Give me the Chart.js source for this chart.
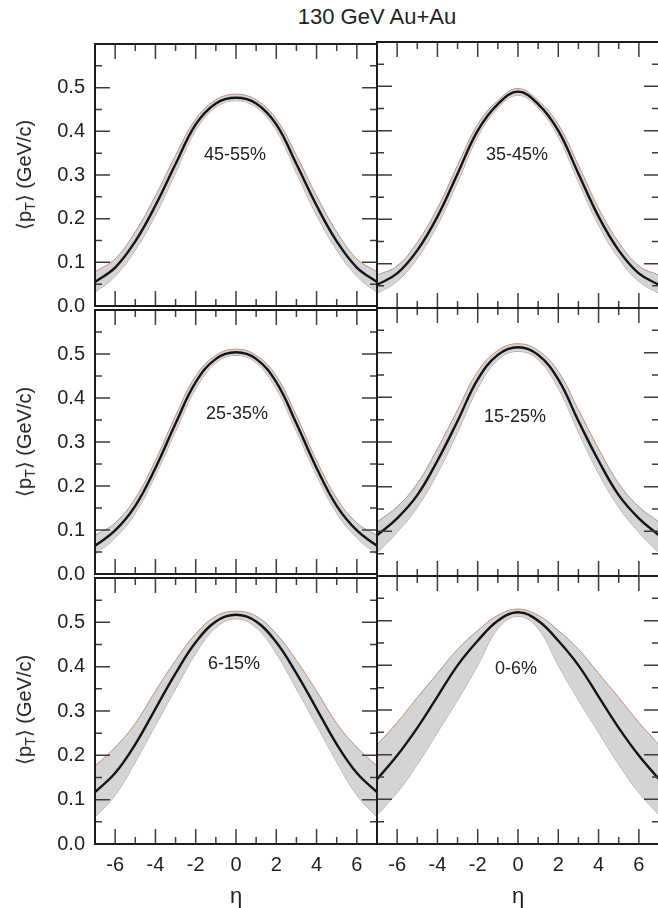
<!DOCTYPE html>
<html>
<head>
<meta charset="utf-8">
<script src="https://cdn.jsdelivr.net/npm/chart.js@4"></script>
<style>
    html, body { margin: 0; padding: 0; background: #fff; overflow: hidden; }
    #lienzo { position: relative; width: 658px; height: 908px; overflow: hidden;
              font-family: "Liberation Sans", Arial, sans-serif; color: #222; }
    #lienzo canvas { position: absolute; }
    .texto { position: absolute; white-space: nowrap; transform: translate(-50%, -50%); }
    .titulo { font-size: 22px; }
    .etiqueta { font-size: 18px; }
    .eje-y { font-size: 20px; transform: translate(-50%, -50%) rotate(-90deg); }
    .eje-y sub { font-size: 14px; vertical-align: -4px; }
</style>
</head>
<body>
<div id="lienzo">
    <div class="texto titulo" style="left:377px; top:17px;">130 GeV Au+Au</div>
</div>

<script>
'use strict';

// Pseudorapidez (eje x), un punto por unidad
const ETA = [-7, -6, -5, -4, -3, -2, -1, 0, 1, 2, 3, 4, 5, 6, 7];

// Marcas y etiquetas de los ejes
const X_ETIQUETAS = [-6, -4, -2, 0, 2, 4, 6];
const X_MENORES = [-5, -3, -1, 1, 3, 5];
const Y_ETIQUETAS = [0, 0.1, 0.2, 0.3, 0.4, 0.5];
const Y_MENORES = [0.05, 0.15, 0.25, 0.35, 0.45, 0.55];

// <pT> (GeV/c): curva central, borde superior e inferior de la banda
const PT_45_55    = [0.055, 0.088, 0.148, 0.230, 0.325, 0.416, 0.464, 0.477, 0.464, 0.416, 0.325, 0.230, 0.148, 0.088, 0.055];
const PT_45_55_HI = [0.078, 0.108, 0.170, 0.252, 0.345, 0.428, 0.472, 0.485, 0.472, 0.428, 0.345, 0.252, 0.170, 0.108, 0.078];
const PT_45_55_LO = [0.031, 0.068, 0.128, 0.208, 0.305, 0.402, 0.455, 0.470, 0.455, 0.402, 0.305, 0.208, 0.128, 0.068, 0.031];

const PT_35_45    = [0.052, 0.078, 0.130, 0.206, 0.303, 0.400, 0.460, 0.488, 0.460, 0.400, 0.303, 0.206, 0.130, 0.078, 0.052];
const PT_35_45_HI = [0.074, 0.095, 0.148, 0.225, 0.322, 0.414, 0.468, 0.495, 0.468, 0.414, 0.322, 0.225, 0.148, 0.095, 0.074];
const PT_35_45_LO = [0.033, 0.060, 0.112, 0.187, 0.284, 0.386, 0.451, 0.480, 0.451, 0.386, 0.284, 0.187, 0.112, 0.060, 0.033];

const PT_25_35    = [0.064, 0.099, 0.155, 0.241, 0.342, 0.436, 0.489, 0.504, 0.489, 0.436, 0.342, 0.241, 0.155, 0.099, 0.064];
const PT_25_35_HI = [0.088, 0.116, 0.172, 0.258, 0.360, 0.450, 0.497, 0.511, 0.497, 0.450, 0.360, 0.258, 0.172, 0.116, 0.088];
const PT_25_35_LO = [0.045, 0.082, 0.138, 0.224, 0.324, 0.421, 0.480, 0.497, 0.480, 0.421, 0.324, 0.224, 0.138, 0.082, 0.045];

const PT_15_25    = [0.091, 0.129, 0.181, 0.258, 0.347, 0.440, 0.495, 0.512, 0.495, 0.440, 0.347, 0.258, 0.181, 0.129, 0.091];
const PT_15_25_HI = [0.121, 0.155, 0.207, 0.285, 0.372, 0.458, 0.505, 0.520, 0.505, 0.458, 0.372, 0.285, 0.207, 0.155, 0.121];
const PT_15_25_LO = [0.052, 0.098, 0.154, 0.230, 0.322, 0.420, 0.484, 0.503, 0.484, 0.420, 0.322, 0.230, 0.154, 0.098, 0.052];

const PT_6_15     = [0.117, 0.160, 0.225, 0.305, 0.385, 0.455, 0.502, 0.517, 0.502, 0.455, 0.385, 0.305, 0.225, 0.160, 0.117];
const PT_6_15_HI  = [0.176, 0.218, 0.272, 0.345, 0.414, 0.474, 0.514, 0.525, 0.514, 0.474, 0.414, 0.345, 0.272, 0.218, 0.176];
const PT_6_15_LO  = [0.061, 0.110, 0.185, 0.268, 0.350, 0.430, 0.488, 0.508, 0.488, 0.430, 0.350, 0.268, 0.185, 0.110, 0.061];

const PT_0_6      = [0.145, 0.198, 0.260, 0.330, 0.400, 0.455, 0.500, 0.519, 0.500, 0.455, 0.400, 0.330, 0.260, 0.198, 0.145];
const PT_0_6_HI   = [0.222, 0.272, 0.328, 0.382, 0.436, 0.478, 0.512, 0.526, 0.512, 0.478, 0.436, 0.382, 0.328, 0.272, 0.222];
const PT_0_6_LO   = [0.065, 0.115, 0.178, 0.250, 0.322, 0.400, 0.482, 0.510, 0.482, 0.400, 0.322, 0.250, 0.178, 0.115, 0.065];

const PANELES = [
    { nombre: '45-55%', centro: PT_45_55, alto: PT_45_55_HI, bajo: PT_45_55_LO, pos: [235, 154] },
    { nombre: '35-45%', centro: PT_35_45, alto: PT_35_45_HI, bajo: PT_35_45_LO, pos: [517, 154] },
    { nombre: '25-35%', centro: PT_25_35, alto: PT_25_35_HI, bajo: PT_25_35_LO, pos: [237, 413] },
    { nombre: '15-25%', centro: PT_15_25, alto: PT_15_25_HI, bajo: PT_15_25_LO, pos: [515, 416] },
    { nombre: '6-15%',  centro: PT_6_15,  alto: PT_6_15_HI,  bajo: PT_6_15_LO,  pos: [234, 663] },
    { nombre: '0-6%',   centro: PT_0_6,   alto: PT_0_6_HI,   bajo: PT_0_6_LO,   pos: [516, 668] }
];

// Geometria de la rejilla 3x2 (pixeles de pagina)
const FILA_ARRIBA = [42, 308, 576];
const FILA_ABAJO = [308, 576, 844];
const MARGEN = 20;

const FUENTE = '"Liberation Sans", Arial, sans-serif';
const BANDA = 'rgb(211, 212, 214)';
const BORDE_BANDA = 'rgb(198, 142, 112)';

/**
 * Dibuja el marco y las marcas hacia dentro en los cuatro lados.
 */
const marcasInternas = {
    id: 'marcasInternas',
    afterDatasetsDraw(chart) {
        const { ctx, chartArea: a, scales: { x, y } } = chart;
        ctx.save();
        ctx.strokeStyle = '#3c3c3c';
        ctx.lineWidth = 1.5;
        ctx.beginPath();
        const marcaX = (v, largo) => {
            const px = x.getPixelForValue(v);
            ctx.moveTo(px, a.bottom); ctx.lineTo(px, a.bottom - largo);
            ctx.moveTo(px, a.top); ctx.lineTo(px, a.top + largo);
        };
        const marcaY = (v, largo) => {
            const py = y.getPixelForValue(v);
            ctx.moveTo(a.left, py); ctx.lineTo(a.left + largo, py);
            ctx.moveTo(a.right, py); ctx.lineTo(a.right - largo, py);
        };
        X_ETIQUETAS.forEach(v => marcaX(v, 15));
        X_MENORES.forEach(v => marcaX(v, 7));
        Y_ETIQUETAS.forEach(v => marcaY(v, 15));
        Y_MENORES.forEach(v => marcaY(v, 7));
        ctx.stroke();

        ctx.strokeStyle = '#1c1c1c';
        ctx.lineWidth = 2;
        ctx.strokeRect(a.left, a.top, a.right - a.left, a.bottom - a.top);
        ctx.restore();
    }
};

function puntos(valores) {
    return ETA.map((x, i) => ({ x, y: valores[i] }));
}

/**
 * Crea el grafico de un panel en la columna y fila indicadas.
 */
function crearPanel(panel, col, fila) {
    const lienzo = document.getElementById('lienzo');
    const canvas = document.createElement('canvas');
    const arriba = FILA_ARRIBA[fila] - MARGEN;
    const abajo = fila === 2 ? 908 : FILA_ABAJO[fila] + MARGEN;

    canvas.width = col === 0 ? 377 + MARGEN : 282 + 2 * MARGEN;
    canvas.height = abajo - arriba;
    canvas.style.left = (col === 0 ? 0 : 377 - MARGEN) + 'px';
    canvas.style.top = arriba + 'px';
    lienzo.appendChild(canvas);

    const linea = { pointRadius: 0, tension: 0.4 };

    new Chart(canvas, {
        type: 'line',
        data: {
            datasets: [
                { ...linea, label: 'centro', data: puntos(panel.centro), borderColor: '#141414', borderWidth: 2.4, fill: false, order: 0 },
                { ...linea, label: 'alto', data: puntos(panel.alto), borderColor: BORDE_BANDA, borderWidth: 1, backgroundColor: BANDA, fill: 2, order: 1 },
                { ...linea, label: 'bajo', data: puntos(panel.bajo), borderColor: BORDE_BANDA, borderWidth: 1, fill: false, order: 2 }
            ]
        },
        options: {
            responsive: false,
            animation: false,
            devicePixelRatio: 1,
            events: [],
            layout: {
                padding: { left: col === 0 ? 0 : MARGEN, right: MARGEN, top: MARGEN, bottom: fila === 2 ? 0 : MARGEN }
            },
            plugins: { legend: { display: false }, tooltip: { enabled: false } },
            scales: {
                x: {
                    type: 'linear',
                    min: -7,
                    max: 7,
                    display: fila === 2,
                    afterBuildTicks: s => { s.ticks = X_ETIQUETAS.map(v => ({ value: v })); },
                    afterFit: s => { if (s.options.display) s.height = 64; },
                    grid: { display: false, drawTicks: false },
                    border: { display: false },
                    ticks: {
                        padding: 9, autoSkip: false, maxRotation: 0, color: '#222',
                        font: { family: FUENTE, size: 20 },
                        callback: v => String(v)
                    },
                    title: {
                        display: true, text: 'η', color: '#222',
                        font: { family: FUENTE, size: 22, lineHeight: 1 },
                        padding: { top: 0, bottom: 0 }
                    }
                },
                y: {
                    type: 'linear',
                    min: 0,
                    max: 0.6,
                    display: col === 0,
                    afterBuildTicks: s => { s.ticks = Y_ETIQUETAS.map(v => ({ value: v })); },
                    afterFit: s => { if (s.options.display) s.width = 95; },
                    grid: { display: false, drawTicks: false },
                    border: { display: false },
                    ticks: {
                        padding: 10, color: '#222',
                        font: { family: FUENTE, size: 20 },
                        callback: v => v.toFixed(1)
                    }
                }
            }
        },
        plugins: [marcasInternas]
    });

    // Etiqueta de centralidad
    const etiqueta = document.createElement('div');
    etiqueta.className = 'texto etiqueta';
    etiqueta.style.left = panel.pos[0] + 'px';
    etiqueta.style.top = panel.pos[1] + 'px';
    etiqueta.textContent = panel.nombre;
    lienzo.appendChild(etiqueta);

    // Titulo del eje y en la columna izquierda
    if (col === 0) {
        const titulo = document.createElement('div');
        titulo.className = 'texto eje-y';
        titulo.style.left = '25px';
        titulo.style.top = ((FILA_ARRIBA[fila] + FILA_ABAJO[fila]) / 2) + 'px';
        titulo.innerHTML = '⟨p<sub>T</sub>⟩ (GeV/c)';
        lienzo.appendChild(titulo);
    }
}

PANELES.forEach((panel, i) => crearPanel(panel, i % 2, Math.floor(i / 2)));
</script>
</body>
</html>
